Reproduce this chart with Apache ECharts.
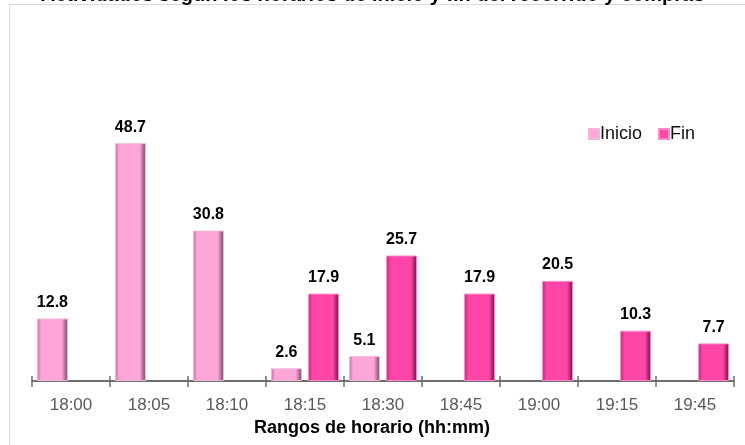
<!DOCTYPE html>
<html><head><meta charset="utf-8">
<script src="https://cdn.jsdelivr.net/npm/echarts@6/dist/echarts.min.js"></script>
<style>html,body{margin:0;padding:0;background:#fff}#c{width:745px;height:445px}</style>
</head><body><div id="c"></div>
<script>
const titleText = 'Actividades según los horarios de inicio y fin del recorrido y compras';
const categories = ['18:00','18:05','18:10','18:15','18:30','18:45','19:00','19:15','19:45'];
const inicio = [12.8, 48.7, 30.8, 2.6, 5.1, null, null, null, null];
const fin = [null, null, null, 17.9, 25.7, 17.9, 20.5, 10.3, 7.7];
const seriesNames = ['Inicio', 'Fin'];
const axisTitle = 'Rangos de horario (hh:mm)';

function grad(edgeL, main, edgeR) {
  return new echarts.graphic.LinearGradient(0, 0, 1, 0, [
    {offset: 0, color: edgeL}, {offset: 0.14, color: main},
    {offset: 0.8, color: main}, {offset: 1, color: edgeR}
  ]);
}
const chart = echarts.init(document.getElementById('c'), null, {renderer: 'canvas'});
const labelStyle = {show: true, position: 'top', distance: 8, color: '#000',
  fontFamily: 'Liberation Sans', fontWeight: 'bold', fontSize: 16,
  formatter: p => (p.value == null ? '' : Number(p.value).toFixed(1))};
chart.setOption({
  animation: false,
  title: {text: titleText, left: 'center', top: -20,
    textStyle: {fontFamily: 'Liberation Sans', fontWeight: 'bold', fontSize: 20, color: '#000'}},
  graphic: [{type: 'rect', shape: {x: 9.5, y: 4.5, width: 800, height: 500},
    style: {fill: 'none', stroke: '#d9d9d9', lineWidth: 1}, z: -1}],
  legend: {left: 583, top: 120, itemWidth: 10, itemHeight: 10, itemGap: 16,
    icon: 'rect', data: seriesNames,
    textStyle: {fontFamily: 'Liberation Sans', fontSize: 18, color: '#111', padding: [0,0,0,-4]}},
  grid: {left: 32, right: 11, top: 88, bottom: 64},
  xAxis: [{type: 'category', data: categories,
    axisLine: {lineStyle: {color: '#6e6e6e', width: 2}},
    axisTick: {show: true, length: 6, lineStyle: {color: '#6e6e6e', width: 1.5}},
    axisLabel: {margin: 16, color: '#595959', fontFamily: 'Liberation Sans', fontSize: 17},
    name: axisTitle, nameLocation: 'middle', nameGap: 37,
    nameTextStyle: {fontFamily: 'Liberation Sans', fontWeight: 'bold', fontSize: 18, color: '#000', padding: [0, 22, 0, 0]}},
   {type: 'category', data: categories, position: 'bottom',
    axisLine: {show: false}, axisLabel: {show: false},
    axisTick: {show: true, inside: true, length: 5, lineStyle: {color: '#6e6e6e', width: 1.5}}}],
  yAxis: {type: 'value', min: 0, max: 60, show: false, splitLine: {show: false}},
  series: [
    {name: seriesNames[0], type: 'bar', data: inicio, barWidth: 31, barGap: '20%',
     itemStyle: {color: grad('#b87399', '#ffa6d9', '#6e3d58'), borderColor: '#f4b7dc', borderWidth: 1},
     label: labelStyle},
    {name: seriesNames[1], type: 'bar', data: fin, barWidth: 31,
     itemStyle: {color: grad('#a82c6e', '#ff45a8', '#5c1838'), borderColor: '#ff8cc8', borderWidth: 1},
     label: labelStyle}
  ]
});
</script></body></html>
